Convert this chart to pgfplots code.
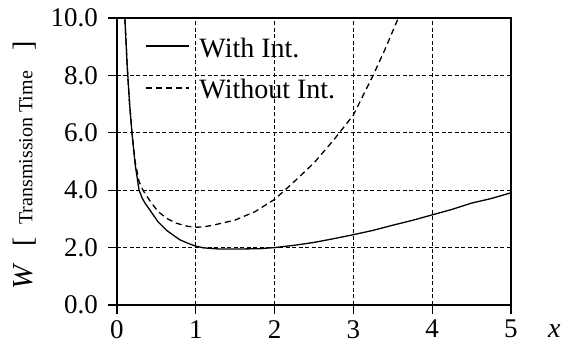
\documentclass[border=0pt]{standalone}
\usepackage{fontspec}
\setmainfont{Liberation Serif}
\usepackage{pgfplots}
\pgfplotsset{compat=1.18}

% Mean waiting time W against load x, with and without interference
\pgfplotstableread{
x     W
0.09  11.0
0.10  10.0
0.13  8.3
0.16  7.0
0.19  6.0
0.23  4.9
0.28  4.0
0.32  3.72
0.36  3.53
0.42  3.3
0.52  2.9
0.63  2.6
0.72  2.42
0.80  2.27
0.90  2.15
1.00  2.05
1.10  1.99
1.30  1.95
1.50  1.95
1.80  1.96
2.00  2.00
2.25  2.08
2.50  2.18
2.75  2.31
3.00  2.45
3.25  2.60
3.50  2.78
3.75  2.95
4.00  3.14
4.25  3.33
4.50  3.55
4.75  3.71
5.00  3.91
}\withint

\pgfplotstableread{
x     W
0.09  11.0
0.10  10.0
0.13  8.3
0.16  7.0
0.19  6.0
0.23  5.0
0.28  4.3
0.33  4.0
0.42  3.62
0.52  3.26
0.63  3.02
0.75  2.85
0.90  2.74
1.00  2.71
1.10  2.72
1.25  2.80
1.50  2.96
1.75  3.25
2.00  3.68
2.13  4.00
2.25  4.30
2.50  4.95
2.75  5.75
3.00  6.62
3.25  8.00
3.40  8.90
3.57  10.0
3.60  10.2
}\withoutint

\begin{document}
\begin{tikzpicture}
\begin{axis}[
  scale only axis,
  width=394pt, height=287pt,
  xmin=0, xmax=5, ymin=0, ymax=10,
  xtick={0,1,2,3,4,5},
  ytick={0,2,4,6,8,10},
  /pgf/number format/assume math mode=true,
  tick label style={font=\fontsize{27}{30}\selectfont, inner sep=0pt},
  y tick label style={xshift=-10pt, /pgf/number format/fixed,
    /pgf/number format/fixed zerofill, /pgf/number format/precision=1},
  x tick label style={yshift=-6pt},
  tick align=outside,
  xtick pos=left, ytick pos=left,
  major tick length=9pt,
  tick style={line width=1.2pt, black},
  axis line style={line width=1.8pt},
  grid=major,
  major grid style={black, line width=0.8pt, dash pattern=on 4pt off 2.5pt},
  clip=true,
  xlabel={\textit{x}},
  xlabel style={font=\fontsize{28}{30}\selectfont, at={(axis description cs:1,0)},
    anchor=base west, xshift=37pt, yshift=-33pt, inner sep=0pt},
  ylabel={{\fontsize{29}{30}\selectfont\textit{W}}\hspace{17pt}{\fontsize{28}{30}\selectfont[}\hspace{12.5pt}{\fontsize{20}{22}\selectfont Transmission Time}\hspace{21pt}{\fontsize{28}{30}\selectfont]}},
  ylabel style={at={(axis description cs:0,0)}, anchor=base west,
    xshift=15pt, yshift=84.5pt, inner sep=0pt},
  legend cell align=left,
  legend style={draw=none, fill=none, at={(axis description cs:0,1)},
    anchor=north west, xshift=28pt, yshift=-19.4pt,
    font=\fontsize{28}{30}\selectfont, row sep=21pt, inner sep=0pt,
    nodes={inner sep=0pt},
    /tikz/every odd column/.style={column sep=10pt}},
  legend image code/.code={\draw[#1] (0pt,2pt) -- (43pt,2pt);},
]
\addplot[black, line width=1.3pt] table[x=x, y=W] {\withint};
\addlegendentry{With Int.}
\addplot[black, line width=1.3pt, dash pattern=on 6pt off 4pt] table[x=x, y=W] {\withoutint};
\addlegendentry{Without Int.}
\end{axis}
\pgfresetboundingbox
\path (current axis.south west) ++(-117pt,-39pt) rectangle ++(574pt,344pt);
\end{tikzpicture}
\end{document}
